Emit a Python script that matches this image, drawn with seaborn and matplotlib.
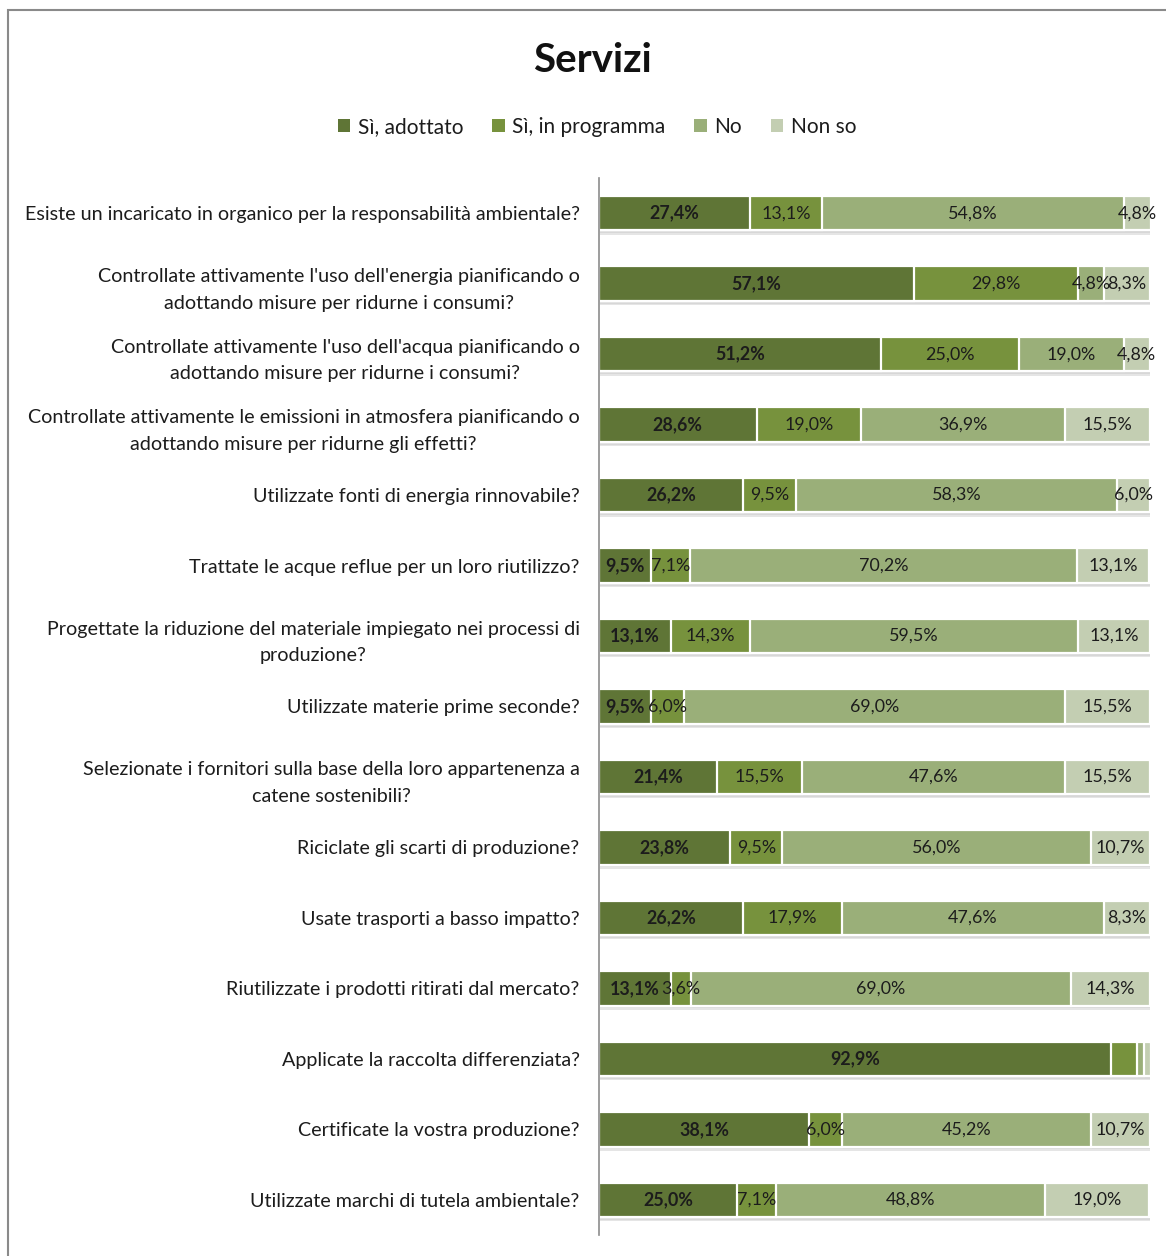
import numpy as np
import pandas as pd
import matplotlib
matplotlib.use("Agg")
import matplotlib.pyplot as plt
import matplotlib.patheffects as pe
from matplotlib.patches import Rectangle, Patch
import seaborn as sns

# Survey questions (y categories)
questions = [
    "Esiste un incaricato in organico per la responsabilità ambientale?",
    "Controllate attivamente l'uso dell'energia pianificando o\nadottando misure per ridurne i consumi?",
    "Controllate attivamente l'uso dell'acqua pianificando o\nadottando misure per ridurne i consumi?",
    "Controllate attivamente le emissioni in atmosfera pianificando o\nadottando misure per ridurne gli effetti?",
    "Utilizzate fonti di energia rinnovabile?",
    "Trattate le acque reflue per un loro riutilizzo?",
    "Progettate la riduzione del materiale impiegato nei processi di\nproduzione?",
    "Utilizzate materie prime seconde?",
    "Selezionate i fornitori sulla base della loro appartenenza a\ncatene sostenibili?",
    "Riciclate gli scarti di produzione?",
    "Usate trasporti a basso impatto?",
    "Riutilizzate i prodotti ritirati dal mercato?",
    "Applicate la raccolta differenziata?",
    "Certificate la vostra produzione?",
    "Utilizzate marchi di tutela ambientale?",
]

series_names = ["Sì, adottato", "Sì, in programma", "No", "Non so"]

si_adottato = [27.4, 57.1, 51.2, 28.6, 26.2, 9.5, 13.1, 9.5, 21.4, 23.8, 26.2, 13.1, 92.9, 38.1, 25.0]
si_programma = [13.1, 29.8, 25.0, 19.0, 9.5, 7.1, 14.3, 6.0, 15.5, 9.5, 17.9, 3.6, 4.8, 6.0, 7.1]
no = [54.8, 4.8, 19.0, 36.9, 58.3, 70.2, 59.5, 69.0, 47.6, 56.0, 47.6, 69.0, 1.2, 45.2, 48.8]
non_so = [4.8, 8.3, 4.8, 15.5, 6.0, 13.1, 13.1, 15.5, 15.5, 10.7, 8.3, 14.3, 1.2, 10.7, 19.0]

# Row whose minor segments carry no value labels
unlabeled_row = "Applicate la raccolta differenziata?"

colors = ["#5f7536", "#77923d", "#9aaf79", "#c3ceb2"]

sns.set_theme(style="white")
plt.rcParams["font.family"] = ["Lato", "DejaVu Sans"]

values = np.array([si_adottato, si_programma, no, non_so])
cum = np.cumsum(values, axis=0)

fig = plt.figure(figsize=(11.66, 12.56), dpi=100)
ax = fig.add_axes([599 / 1166, 1 - 1235 / 1256, 551 / 1166, (1235 - 178) / 1256])

bar_w = 0.49
# Stacked bars: draw cumulative totals from the outermost layer inwards
for k in range(3, -1, -1):
    df = pd.DataFrame({"q": questions, "v": cum[k]})
    sns.barplot(data=df, x="v", y="q", orient="h", color=colors[k],
                edgecolor="white", linewidth=1.6, width=bar_w,
                saturation=1, ax=ax)
    if k == 3:
        for p in ax.patches:
            p.set_path_effects([
                pe.SimplePatchShadow(offset=(1, -3), shadow_rgbFace="#8a8a8a", alpha=0.22),
                pe.SimplePatchShadow(offset=(1, -2), shadow_rgbFace="#8a8a8a", alpha=0.15),
                pe.Normal(),
            ])

# Value labels centred in each segment
for i, q in enumerate(questions):
    left = 0.0
    for k in range(4):
        v = values[k, i]
        if not (q == unlabeled_row and k > 0):
            ax.text(left + v / 2, i, f"{v:.1f}%".replace(".", ","),
                    ha="center", va="center", fontsize=12.9,
                    fontweight="bold" if k == 0 else "normal",
                    color="#1c1c1c")
        left += v

ax.set_xlim(0, 100)
ax.set_ylim(len(questions) - 0.5, -0.5)
ax.set_xlabel("")
ax.set_ylabel("")
ax.set_xticks([])
ax.tick_params(axis="y", length=0, pad=14, labelsize=14.2, labelcolor="#1c1c1c")
for lbl in ax.get_yticklabels():
    lbl.set_multialignment("center")
    lbl.set_linespacing(1.7)
for s in ["top", "right", "bottom"]:
    ax.spines[s].set_visible(False)
ax.spines["left"].set_color("#8c8c8c")
ax.spines["left"].set_linewidth(1.2)

# Title and legend
fig.text(592 / 1166, 1 - 60 / 1256, "Servizi", ha="center", va="center",
         fontsize=29, fontweight="bold", color="#111111")
handles = [Patch(facecolor=c, edgecolor="none") for c in colors]
fig.legend(handles, series_names, loc="center", bbox_to_anchor=(597 / 1166, 1 - 127 / 1256),
           ncol=4, frameon=False, fontsize=15, handlelength=0.6, handleheight=0.6,
           handletextpad=0.35, columnspacing=1.4, labelcolor="#1c1c1c")

# Chart-area border
fig.patches.append(Rectangle((8 / 1166, -0.05), 1.2, 1 - 10 / 1256 + 0.05,
                             transform=fig.transFigure, fill=False,
                             edgecolor="#8a8a8a", linewidth=1.5))

fig.savefig("out.png", dpi=100)
